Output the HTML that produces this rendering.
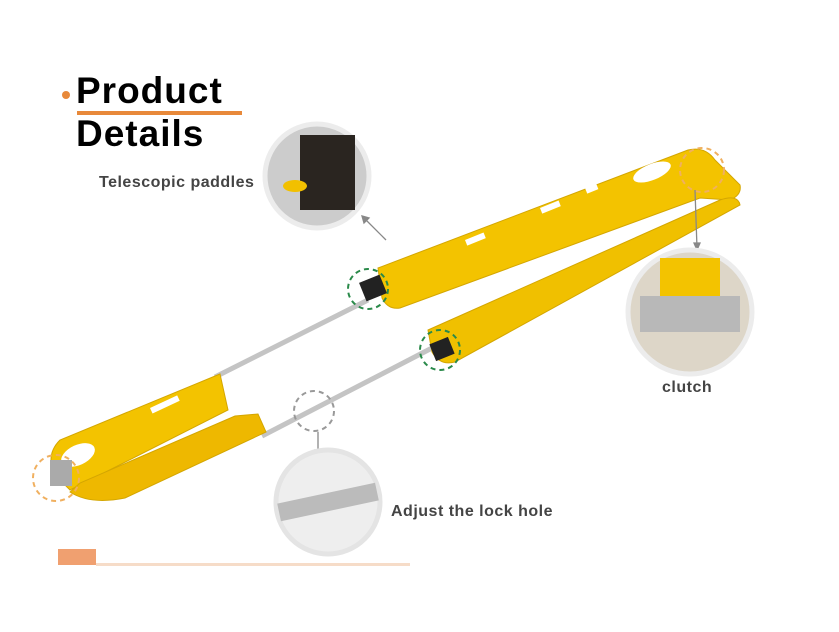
<!DOCTYPE html>
<html><head><style>
body{margin:0;width:839px;height:632px;background:#fff;overflow:hidden;position:relative;font-family:"Liberation Sans",sans-serif}
.t{position:absolute;font-weight:bold;color:#000;font-size:37px;letter-spacing:1px}
.l{position:absolute;color:#444;font-size:16px;font-weight:bold;letter-spacing:.5px}
</style></head><body>
<div style="position:absolute;left:62px;top:91px;width:8px;height:8px;border-radius:50%;background:#e8893a"></div>
<div class="t" style="left:76px;top:70px">Product</div>
<div style="position:absolute;left:77px;top:111px;width:165px;height:4px;background:#e8893a"></div>
<div class="t" style="left:76px;top:113px">Details</div>
<div class="l" style="left:99px;top:174px">Telescopic paddles</div>
<div class="l" style="left:662px;top:379px">clutch</div>
<div class="l" style="left:391px;top:503px">Adjust the lock hole</div>
<div style="position:absolute;left:58px;top:549px;width:38px;height:16px;background:#f0a070"></div>
<div style="position:absolute;left:96px;top:563px;width:314px;height:3px;background:#f6dcc8"></div>
<svg width="839" height="632" style="position:absolute;left:0;top:0">
<line x1="368" y1="300" x2="215" y2="377" stroke="#c4c4c4" stroke-width="5"/>
<line x1="432" y1="348" x2="262" y2="436" stroke="#c4c4c4" stroke-width="5"/>
<path d="M378,268 L688,150 Q705,146 715,160 L740,185 Q742,195 730,200 L700,198 L400,308 Q388,310 382,298 Z" fill="#f3c300" stroke="#d4a600"/>
<path d="M428,330 L720,200 Q738,194 740,205 L455,362 Q440,366 432,352 Z" fill="#f0c000" stroke="#d4a600"/>
<path d="M60,440 Q45,455 55,475 L70,490 L228,410 L220,374 Z" fill="#f3c300" stroke="#d4a600"/>
<path d="M70,492 Q90,505 125,498 L266,432 L258,414 L235,416 L80,483 Z" fill="#eeb800" stroke="#d4a600"/>
<g fill="#fff">
<rect x="150" y="408" width="30" height="6" transform="rotate(-25 150 408)"/>
<rect x="540" y="208" width="20" height="6" transform="rotate(-22 540 208)"/>
<rect x="465" y="240" width="20" height="6" transform="rotate(-22 465 240)"/>
<rect x="585" y="188" width="12" height="6" transform="rotate(-22 585 188)"/>
<ellipse cx="78" cy="455" rx="18" ry="10" transform="rotate(-25 78 455)"/>
<ellipse cx="652" cy="172" rx="20" ry="8" transform="rotate(-22 652 172)"/>
</g>
<rect x="362" y="278" width="22" height="20" fill="#222" transform="rotate(-22 373 288)"/>
<rect x="432" y="340" width="20" height="18" fill="#222" transform="rotate(-22 442 349)"/>
<rect x="50" y="460" width="22" height="26" fill="#aaa"/>
<g fill="none" stroke-width="2" stroke-dasharray="5,4">
<circle cx="368" cy="289" r="20" stroke="#2a8a4a"/>
<circle cx="440" cy="350" r="20" stroke="#2a8a4a"/>
<circle cx="702" cy="170" r="22" stroke="#f0b060"/>
<circle cx="56" cy="478" r="23" stroke="#f0b060"/>
<circle cx="314" cy="411" r="20" stroke="#999"/>
</g>
<g stroke="#888" stroke-width="1.3">
<line x1="386" y1="240" x2="362" y2="216"/><path d="M362,216 l2,7 l5,-5 z" fill="#888"/>
<line x1="695" y1="190" x2="697" y2="248"/><path d="M697,250 l-3,-7 l6,0 z" fill="#888"/>
<line x1="318" y1="432" x2="318" y2="455"/><path d="M318,457 l-3,-7 l6,0 z" fill="#888"/>
</g>
<circle cx="317" cy="176" r="52" fill="#ccc" stroke="#ececec" stroke-width="5"/>
<rect x="300" y="135" width="55" height="75" fill="#2a2520"/>
<ellipse cx="295" cy="186" rx="12" ry="6" fill="#f2c000"/>
<circle cx="690" cy="312" r="62" fill="#ddd6c8" stroke="#ececec" stroke-width="5"/>
<rect x="640" y="296" width="100" height="36" fill="#b8b8b8"/>
<rect x="660" y="258" width="60" height="38" fill="#f3c300"/>
<circle cx="328" cy="502" r="52" fill="#eee" stroke="#e4e4e4" stroke-width="5"/>
<rect x="278" y="493" width="100" height="18" fill="#bbb" transform="rotate(-12 328 502)"/>
</svg>
</body></html>
